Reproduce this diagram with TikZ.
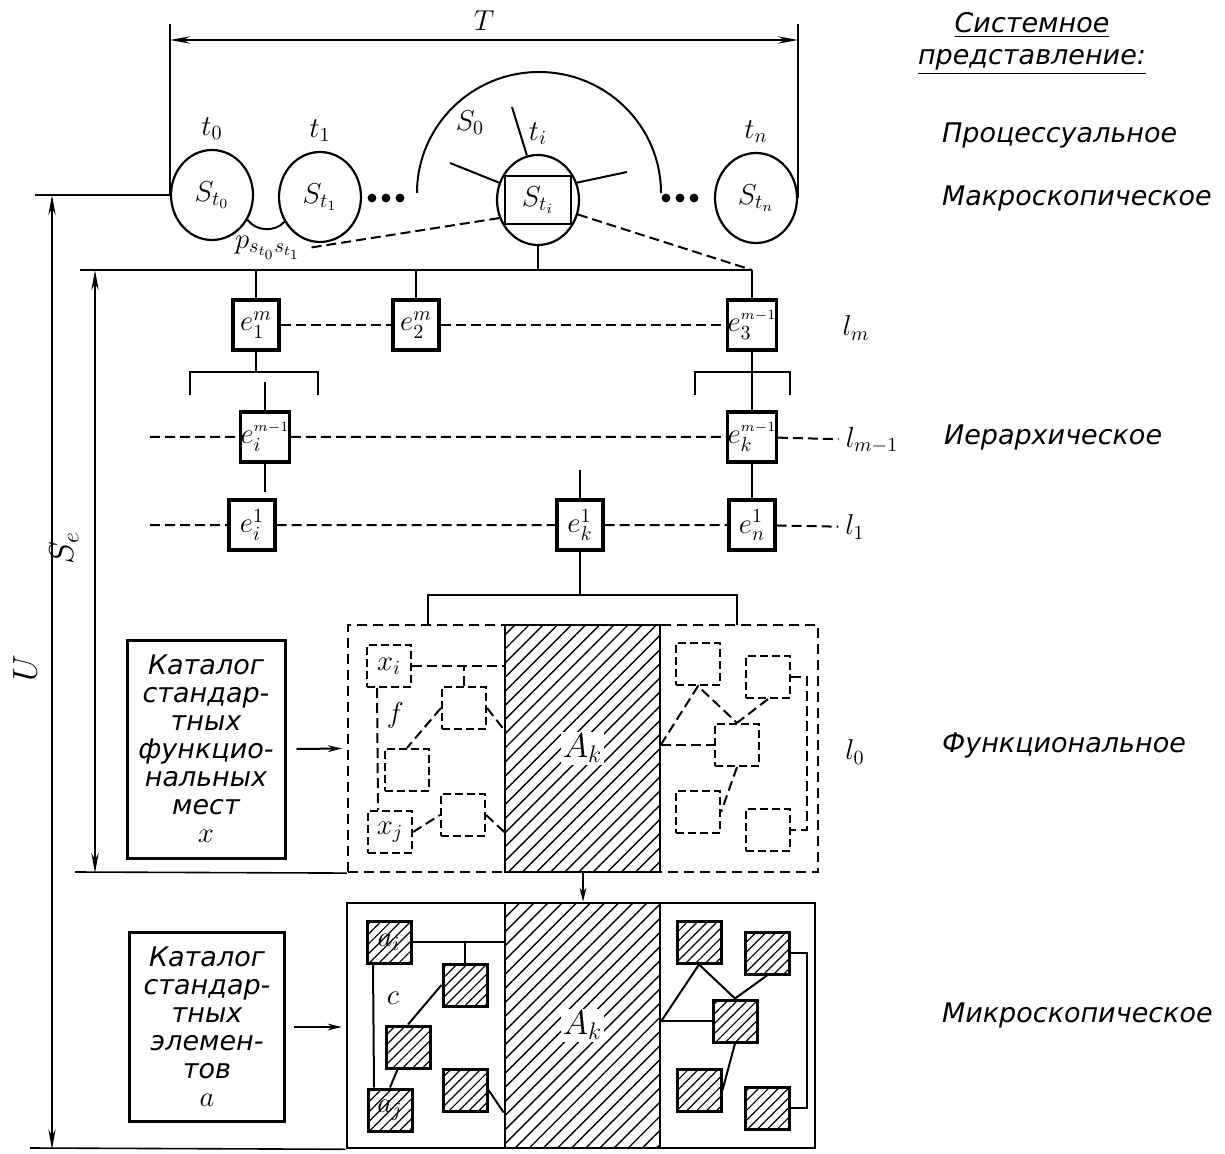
\documentclass[tikz,border=0pt]{standalone}
\usepackage{amsmath,amssymb}
\usepackage{fontspec}
\setmainfont{DejaVu Sans}
\usetikzlibrary{positioning,arrows.meta,patterns.meta,shapes.geometric}
\tikzset{
  >=Stealth,
  dimen/.style={line width=1pt,{Stealth[length=10pt,width=3.6pt]}-{Stealth[length=10pt,width=3.6pt]}},
  feed/.style={line width=1pt,-{Stealth[length=7pt,width=3.4pt]}},
  extn/.style={line width=0.8pt},
  wire/.style={line width=1pt},
  dwire/.style={line width=1pt,dash pattern=on 5pt off 2.5pt},
  stt/.style={draw,ellipse,line width=1.1pt,minimum width=41pt,minimum height=45pt,inner sep=0pt,font=\Large},
  elem/.style={draw,line width=1.6pt,minimum width=23pt,minimum height=25pt,inner sep=0pt,font=\Large},
  fplace/.style={draw,line width=1.1pt,dash pattern=on 4pt off 2pt,minimum width=22pt,minimum height=21pt,inner sep=0pt,font=\Large},
  mpart/.style={draw,line width=1.5pt,minimum width=22pt,minimum height=21pt,inner sep=0pt,font=\Large,
    pattern={Lines[angle=45,distance=3.5pt,line width=0.6pt]}},
  core/.style={draw,line width=1.3pt,minimum width=77.5pt,inner sep=0pt,
    pattern={Lines[angle=45,distance=5pt,line width=0.7pt]}},
  catalog/.style={draw,line width=1.5pt,align=center,inner sep=2pt,font=\fontsize{13.5}{14}\selectfont\itshape},
  caption/.style={anchor=west,font=\fontsize{13.5}{15}\selectfont\itshape},
  lvl/.style={font=\Large},
}
\newcommand{\mmo}{\scriptscriptstyle m-1}

\begin{document}
\begin{tikzpicture}[x=0.5pt,y=-0.5pt]
  \useasboundingbox (0,0) rectangle (1225,1154);

  % states in time
  \node[stt] (s0) at (212,195) {$S_{t_0}$};
  \node[stt] (s1) at (320,197) {$S_{t_1}$};
  \node[stt] (si) at (538,200) {};
  \node[draw,line width=1.3pt,minimum width=33pt,minimum height=24pt,inner sep=0pt,font=\Large] (sib) at (si) {$S_{t_i}$};
  \node[stt] (sn) at (756,198) {$S_{t_n}$};
  \node[lvl,above=1pt of s0] (t0) {$t_0$};
  \node[lvl,above=1pt of s1] (t1) {$t_1$};
  \node[lvl,above=1pt of si] (ti) {$t_i$};
  \node[lvl,above=1pt of sn] (tn) {$t_n$};
  \node[lvl] (so) at (470,123) {$S_0$};
  \foreach \x in {372,386,400,666,680,694}
    \fill (\x,198) circle (2.2pt);
  \draw[wire] (417,193) arc[start angle=180,end angle=0,x radius=61pt,y radius=60.5pt];
  \draw[wire] (si.104) -- (512,107);
  \draw[wire] (si.156) -- (450,163);
  \draw[wire] (si.24) -- (627,172);
  \draw[wire] (s0.-35) to[bend right=50] (s1.-145);
  \node[font=\Large] (pss) at (268,248) {$p_{s_{t_0}s_{t_1}}$};

  % T dimension
  \coordinate (Tt) at (0,24);
  \coordinate (Ty) at (0,40);
  \draw[extn] (s0.west) -- (s0.west |- Tt);
  \draw[extn] (sn.east) -- (sn.east |- Tt);
  \draw[dimen] (s0.west |- Ty) -- node[above=1pt,lvl] (tlab) {$T$} (sn.east |- Ty);

  % hierarchy
  \coordinate (busL) at (256,270);
  \coordinate (busR) at (752,270);
  \draw[wire] (busL) -- (busR);
  \draw[wire] (si.south) -- (si.south |- busL);
  \draw[dwire] (si.205) -- (pss.east);
  \draw[dwire] (si.-20) -- (busR);

  \node[elem] (em1) at (256,325) {$e_1^m$};
  \node[elem] (em2) at (416,325) {$e_2^m$};
  \node[elem] (em3) at (752,325) {$e_3^{\mmo}$};
  \node[lvl] (llm) at (856,328) {$l_m$};
  \draw[wire] (busL) -- (em1.north);
  \draw[wire] (em2.north) -- (em2.north |- busL);
  \draw[wire] (busR) -- (em3.north);
  \draw[dwire] (em1) -- (em2) -- (em3);

  \draw[wire] (em1.south) -- (256,372);
  \draw[wire] (190,395) |- (318,372) -- (318,395);
  \draw[wire] (695,395) |- (790,372) -- (790,395);

  \node[elem] (ei) at (265,437) {$e_i^{\mmo}$};
  \node[elem] (ek) at (752,437) {$e_k^{\mmo}$};
  \node[lvl] (llm1) at (872,440) {$l_{m-1}$};
  \coordinate (hl1) at (150,437);
  \draw[wire] (ei.north) -- ++(0,-28);
  \draw[wire] (ei.south) -- ++(0,28);
  \draw[wire] (em3) -- (ek);
  \draw[dwire] (hl1) -- (ei) -- (ek) -- (llm1);

  \node[elem] (e1i) at (252,525) {$e_i^1$};
  \node[elem] (e1k) at (580,525) {$e_k^1$};
  \node[elem] (e1n) at (752,525) {$e_n^1$};
  \node[lvl] (ll1) at (855,527) {$l_1$};
  \coordinate (hl2) at (150,525);
  \draw[dwire] (hl2) -- (e1i) -- (e1k) -- (e1n) -- (ll1);
  \draw[wire] (ek) -- (e1n);
  \draw[wire] (e1k.north) -- ++(0,-28);
  \draw[wire] (e1k.south) -- (580,595);
  \draw[wire] (428,625) |- (737,595) -- (737,625);

  % functional level
  \node[draw,line width=1.1pt,dash pattern=on 5pt off 3pt,minimum width=235pt,minimum height=123.5pt,inner sep=0pt] (fun) at (583,748.5) {};
  \node[core,minimum height=123.5pt] (ak1) at (582.5,748.5) {};
  \node[fill=white,inner sep=1pt,font=\LARGE] (ak1t) at (ak1) {$A_k$};
  \node[lvl] (ll0) at (855,752) {$l_0$};

  \node[fplace] (fxi) at (389,666) {$x_i$};
  \node[fplace] (f2) at (464,708) {};
  \node[fplace] (f3) at (407,770) {};
  \node[fplace] (f4) at (463,815) {};
  \node[fplace] (fxj) at (390,832) {$x_j$};
  \draw[dwire] (fxi.east) -- (fxi.east -| ak1.west);
  \draw[dwire] (f2.north) -- (f2.north |- fxi.east);
  \draw[dwire] (f2.west) -- (f3.north);
  \draw[dwire] (f2.east) -- (f2.south -| ak1.west);
  \draw[dwire] (fxj.east) -- (f4.west);
  \draw[dwire] (f4.east) -- (fxj.east -| ak1.west);
  \draw[dwire] ([xshift=-6pt]fxi.south) -- node[pos=0.22,right=1pt,font=\Large] (flab) {$f$} ([xshift=-6pt]fxj.north);

  \node[fplace] (fr1) at (698,664) {};
  \node[fplace] (fr2) at (768,677) {};
  \node[fplace] (fr3) at (737,745) {};
  \node[fplace] (fr4) at (698,812) {};
  \node[fplace] (fr5) at (768,830) {};
  \coordinate (akr1) at (ak1.east |- fr3.west);
  \draw[dwire] (akr1) -- (fr1.south) -- (fr3.north);
  \draw[dwire] (fr2.south) -- (fr3.north);
  \draw[dwire] (akr1) -- (fr3.west);
  \draw[dwire] (fr3.south) -- (fr4.east);
  \draw[dwire] (fr2.east) -- ++(8pt,0) |- (fr5.east);

  \node[catalog,minimum width=79pt,minimum height=109pt] (cat1) at (206,749)
    {Каталог\\стандар-\\тных\\функцио-\\нальных\\мест\\$x$};
  \draw[feed] ([xshift=5pt]cat1.east) -- ([xshift=-2.5pt]fun.west);

  % microscopic level
  \node[draw,line width=1.3pt,minimum width=234pt,minimum height=122.5pt,inner sep=0pt] (mic) at (581,1025.5) {};
  \node[core,minimum height=122.5pt] (ak2) at (582.5,1025.5) {};
  \node[fill=white,inner sep=1pt,font=\LARGE] (ak2t) at (ak2) {$A_k$};
  \draw[feed] (fun.south) -- (fun.south |- mic.north);

  \node[mpart] (mai) at (389,942) {$a_i$};
  \node[mpart] (m2) at (465,985) {};
  \node[mpart] (m3) at (408,1047) {};
  \node[mpart] (m4) at (465,1090) {};
  \node[mpart] (maj) at (390,1110) {$a_j$};
  \draw[wire] (mai.east) -- (mai.east -| ak2.west);
  \draw[wire] (m2.north) -- (m2.north |- mai.east);
  \draw[wire] (m2.west) -- (m3.north);
  \draw[wire] (m3.-115) -- (maj.north);
  \draw[wire] (m4.east) -- (m4.south -| ak2.west);
  \draw[wire] ([xshift=-8pt]mai.south) -- node[pos=0.28,right=3pt,font=\Large] (clab) {$c$} ([xshift=-8pt]maj.north);

  \node[mpart] (mr1) at (699,942) {};
  \node[mpart] (mr2) at (767,953) {};
  \node[mpart] (mr3) at (735,1021) {};
  \node[mpart] (mr4) at (699,1090) {};
  \node[mpart] (mr5) at (767,1108) {};
  \coordinate (akr2) at (ak2.east |- mr3.west);
  \draw[wire] (akr2) -- (mr1.south) -- (mr3.north);
  \draw[wire] (mr2.south) -- (mr3.north);
  \draw[wire] (akr2) -- (mr3.west);
  \draw[wire] (mr3.south) -- (mr4.east);
  \draw[wire] (mr2.east) -- ++(8pt,0) |- (mr5.east);

  \node[catalog,minimum width=77.5pt,minimum height=94.5pt] (cat2) at (207,1027)
    {Каталог\\стандар-\\тных\\элемен-\\тов\\$a$};
  \draw[feed] ([xshift=4pt]cat2.east) -- ([xshift=-2pt]mic.west |- cat2.east);

  % U and S_e dimensions
  \coordinate (Utop) at (35,195);
  \coordinate (Ubot) at (30,1148);
  \coordinate (Ux) at (52,0);
  \draw[extn] (Utop) -- (s0.west);
  \draw[extn] (Ubot) -- (mic.south west);
  \draw[dimen] (Ux |- s0.west) -- (Ux |- mic.south west);
  \node[font=\LARGE,rotate=90] (ulab) at (25,668) {$U$};

  \coordinate (Setop) at (80,270);
  \coordinate (Sebot) at (75,872);
  \coordinate (Sx) at (95,0);
  \draw[extn] (Setop) -- (busL);
  \draw[extn] (Sebot) -- (fun.south west);
  \draw[dimen] (Sx |- busL) -- (Sx |- fun.south west);
  \node[font=\LARGE,rotate=90] (selab) at (64,548) {$S_e$};

  % system representation
  \node[font=\fontsize{13.5}{15}\selectfont\itshape] (sys1) at (1032,25) {\underline{Системное}};
  \node[font=\fontsize{13.5}{15}\selectfont\itshape] (sys2) at (1032,62) {\underline{представление:}};
  \node[caption] (cap1) at (935,135) {Процессуальное};
  \node[caption] (cap2) at (935,198) {Макроскопическое};
  \node[caption] (cap3) at (937,437) {Иерархическое};
  \node[caption] (cap4) at (935,745) {Функциональное};
  \node[caption] (cap5) at (935,1015) {Микроскопическое};
\end{tikzpicture}
\end{document}
